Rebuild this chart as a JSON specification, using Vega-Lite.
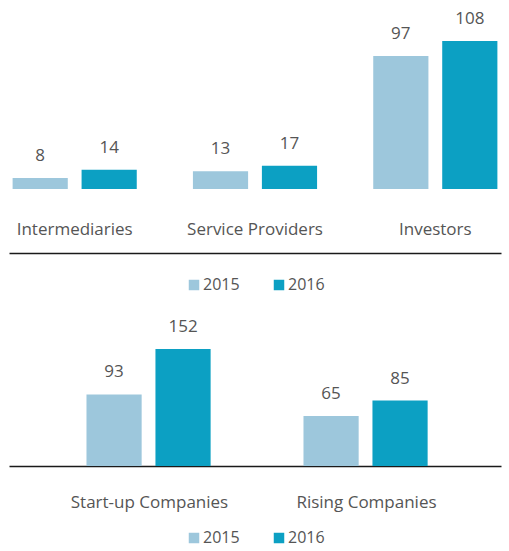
{
  "$schema": "https://vega.github.io/schema/vega-lite/v6.json",
  "padding": {"left": 9, "top": 4, "right": 8, "bottom": 4},
  "background": "white",
  "config": {"view": {"stroke": null}, "font": "Open Sans", "concat": {"spacing": 24},
    "legend": {"layout": {"bottom": {"anchor": "middle"}}}},
  "resolve": {"scale": {"color": "independent"}, "legend": {"color": "independent"}},
  "vconcat": [
    {
      "width": 492,
      "height": 249,
      "data": {"values": [
        {"category": "Intermediaries", "year": "2015", "value": 8},
        {"category": "Intermediaries", "year": "2016", "value": 14},
        {"category": "Service Providers", "year": "2015", "value": 13},
        {"category": "Service Providers", "year": "2016", "value": 17},
        {"category": "Investors", "year": "2015", "value": 97},
        {"category": "Investors", "year": "2016", "value": 108}
      ]},
      "encoding": {
        "x": {"field": "category", "type": "nominal", "sort": ["Intermediaries", "Service Providers", "Investors"],
          "scale": {"paddingInner": 0.3115, "paddingOuter": 0.02},
          "axis": {"title": null, "labelAngle": 0, "ticks": false, "tickSize": 0, "labelPadding": -19, "labelBaseline": "alphabetic", "labelFontSize": 17, "labelColor": "#555555", "domainColor": "#1a1a1a", "domainWidth": 1.5}},
        "xOffset": {"field": "year", "type": "nominal", "scale": {"paddingInner": 0.2, "paddingOuter": 0}},
        "y": {"field": "value", "type": "quantitative", "scale": {"domain": [-46.7, 135]}, "axis": null}
      },
      "layer": [
        {"mark": {"type": "bar"},
          "encoding": {"color": {"field": "year", "type": "nominal", "scale": {"range": ["#9dc7dc", "#0ca0c3"]},
            "legend": {"title": null, "orient": "bottom", "direction": "horizontal", "symbolType": "square", "symbolSize": 110, "labelFontSize": 16, "labelColor": "#555555", "columnPadding": 31, "labelOffset": 1, "offset": 24, "symbolStrokeWidth": 0}}}},
        {"mark": {"type": "text", "baseline": "alphabetic", "dy": -17, "fontSize": 17, "color": "#555555"},
          "encoding": {"text": {"field": "value", "type": "quantitative"}}}
      ]
    },
    {
      "width": 492,
      "height": 146,
      "data": {"values": [
        {"category": "Start-up Companies", "year": "2015", "value": 93},
        {"category": "Start-up Companies", "year": "2016", "value": 152},
        {"category": "Rising Companies", "year": "2015", "value": 65},
        {"category": "Rising Companies", "year": "2016", "value": 85}
      ]},
      "encoding": {
        "x": {"field": "category", "type": "nominal", "sort": ["Start-up Companies", "Rising Companies"],
          "scale": {"paddingInner": 0.4194, "paddingOuter": 0.3433, "align": 0.52},
          "axis": {"title": null, "labelAngle": 0, "ticks": false, "tickSize": 0, "labelPadding": 41, "labelBaseline": "alphabetic", "labelFontSize": 17, "labelColor": "#555555", "domainColor": "#1a1a1a", "domainWidth": 1.5}},
        "xOffset": {"field": "year", "type": "nominal", "scale": {"paddingInner": 0.2, "paddingOuter": 0}},
        "y": {"field": "value", "type": "quantitative", "scale": {"domain": [0, 189.6]}, "axis": null}
      },
      "layer": [
        {"mark": {"type": "bar"},
          "encoding": {"color": {"field": "year", "type": "nominal", "scale": {"range": ["#9dc7dc", "#0ca0c3"]},
            "legend": {"title": null, "orient": "bottom", "direction": "horizontal", "symbolType": "square", "symbolSize": 110, "labelFontSize": 16, "labelColor": "#555555", "columnPadding": 31, "labelOffset": 1, "offset": 20, "symbolStrokeWidth": 0}}}},
        {"mark": {"type": "text", "baseline": "alphabetic", "dy": -17, "fontSize": 17, "color": "#555555"},
          "encoding": {"text": {"field": "value", "type": "quantitative"}}}
      ]
    }
  ]
}
